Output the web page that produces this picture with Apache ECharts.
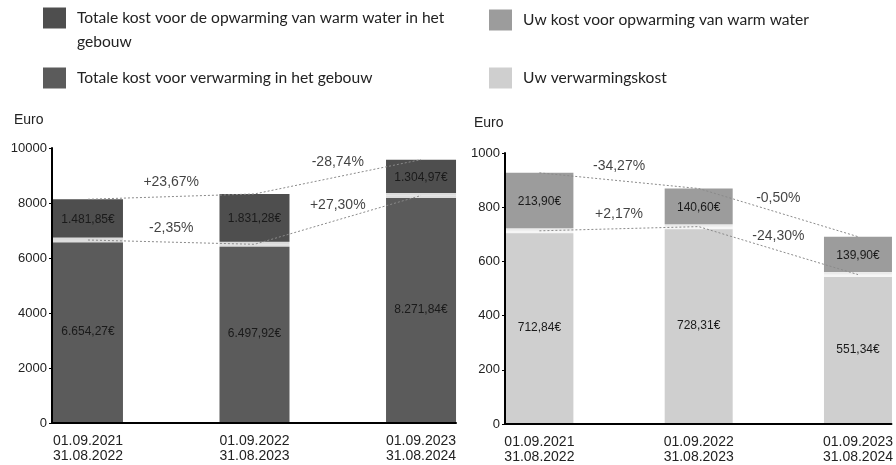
<!DOCTYPE html>
<html lang="nl">
<head>
<meta charset="UTF-8">
<title>Kosten opwarming en verwarming</title>
<script src="https://cdn.jsdelivr.net/npm/echarts@6/dist/echarts.min.js"></script>
<style>
html, body { margin: 0; padding: 0; background: #fff; }
#chart { width: 896px; height: 465px; }
</style>
</head>
<body>
<div id="chart"></div>
<script>
var periods = ['01.09.2021\n31.08.2022', '01.09.2022\n31.08.2023', '01.09.2023\n31.08.2024'];

// totale kost gebouw
var buildingWater = [1481.85, 1831.28, 1304.97];
var buildingHeating = [6654.27, 6497.92, 8271.84];
var buildingWaterPct = ['+23,67%', '-28,74%'];
var buildingHeatingPct = ['-2,35%', '+27,30%'];

// eigen kost
var ownWater = [213.90, 140.60, 139.90];
var ownHeating = [712.84, 728.31, 551.34];
var ownWaterPct = ['-34,27%', '-0,50%'];
var ownHeatingPct = ['+2,17%', '-24,30%'];

var names = [
    'Totale kost voor de opwarming van warm water in het gebouw',
    'Totale kost voor verwarming in het gebouw',
    'Uw kost voor opwarming van warm water',
    'Uw verwarmingskost'
];

var FONT = '"Liberation Sans", Arial, sans-serif';
var LEGEND_FONT = 'Lato, "Open Sans", sans-serif';

// 6654.27 -> 6.654,27€
function euro(v) {
    var p = v.toFixed(2).split('.');
    return p[0].replace(/\B(?=(\d{3})+(?!\d))/g, '.') + ',' + p[1] + '€';
}

function sum(a, b) {
    return a.map(function (v, i) { return v + b[i]; });
}

// waarde staat in kolom 0 zodat de stack op y werkt (x-as is een value-as)
function barSeries(name, data, color, idx, width) {
    return {
        type: 'bar', name: name, xAxisIndex: idx, yAxisIndex: idx,
        stack: 'kost' + idx, barWidth: width,
        encode: { x: 1, y: 0 },
        data: data.map(function (v, i) { return [v, i]; }),
        itemStyle: { color: color },
        label: {
            show: true, position: 'inside', fontSize: 12, fontFamily: FONT, color: '#1a1a1a',
            formatter: function (p) { return euro(p.value[0]); }
        }
    };
}

// witte scheiding tussen de twee delen van een staaf
function gapSeries(data, idx, width) {
    return {
        type: 'scatter', xAxisIndex: idx, yAxisIndex: idx, silent: true, z: 3,
        symbol: 'rect', symbolSize: [width + 2, 5],
        itemStyle: { color: '#fff' },
        data: data.map(function (v, i) { return [i, v]; })
    };
}

function lineSeries(data, idx) {
    return {
        type: 'line', xAxisIndex: idx, yAxisIndex: idx, silent: true, z: 4,
        data: data.map(function (v, i) { return [i, v]; }),
        symbol: 'none',
        lineStyle: { color: '#8a8a8a', width: 1, type: [2, 2] }
    };
}

// percentage boven het midden van de verbindingslijn
function pctSeries(data, pct, idx) {
    return {
        type: 'scatter', xAxisIndex: idx, yAxisIndex: idx, silent: true, z: 5,
        symbolSize: 1, itemStyle: { color: 'rgba(0,0,0,0)' },
        data: pct.map(function (t, i) {
            return { name: t, value: [i + 0.5, (data[i] + data[i + 1]) / 2] };
        }),
        label: {
            show: true, position: 'top', distance: 7, fontSize: 14, fontFamily: FONT, color: '#111',
            formatter: function (p) { return p.name; }
        }
    };
}

function xAxis(idx) {
    return {
        type: 'value', gridIndex: idx, min: -0.216, max: 2.21, z: 6,
        axisLine: { show: true, onZero: false, lineStyle: { color: '#000', width: 2 } },
        axisTick: { show: false },
        splitLine: { show: false },
        axisLabel: {
            customValues: [0, 1, 2], margin: 11, fontSize: 14, lineHeight: 15,
            fontFamily: FONT, color: '#222',
            formatter: function (v) { return periods[Math.round(v)]; }
        }
    };
}

function yAxis(idx, max, interval) {
    return {
        type: 'value', gridIndex: idx, min: 0, max: max, interval: interval, z: 6,
        axisLine: { show: true, onZero: false, lineStyle: { color: '#000', width: 2 } },
        axisTick: { show: true, length: 3, lineStyle: { color: '#000' } },
        splitLine: { show: false },
        axisLabel: {
            margin: 5, fontSize: 13, fontFamily: FONT, color: '#222',
            formatter: function (v) { return String(v); }
        }
    };
}

function legend(name, left, top, fmt) {
    return {
        data: [name], left: left, top: top, selectedMode: false, padding: 0,
        icon: 'rect', itemWidth: 23, itemHeight: 21,
        formatter: fmt,
        textStyle: { fontSize: 15.6, lineHeight: 24, fontFamily: LEGEND_FONT, color: '#222', padding: [0, 0, 0, 6] }
    };
}

var chart = echarts.init(document.getElementById('chart'));
chart.setOption({
    animation: false,
    tooltip: { show: false },
    title: [
        { text: 'Euro', left: 14, top: 113, padding: 0, textStyle: { fontSize: 14, fontWeight: 'normal', fontFamily: FONT, color: '#222' } },
        { text: 'Euro', left: 474, top: 116, padding: 0, textStyle: { fontSize: 14, fontWeight: 'normal', fontFamily: FONT, color: '#222' } }
    ],
    legend: [
        legend(names[0], 43, -18, function (n) { return '\n' + n.replace(' gebouw', '\ngebouw'); }),
        legend(names[1], 43, 66),
        legend(names[2], 489, 8),
        legend(names[3], 489, 66)
    ],
    grid: [
        { left: 52, right: 440, top: 148, bottom: 42 },
        { left: 505, right: -5, top: 153, bottom: 40 }
    ],
    xAxis: [xAxis(0), xAxis(1)],
    yAxis: [yAxis(0, 10000, 2000), yAxis(1, 1000, 200)],
    series: [
        barSeries(names[1], buildingHeating, '#5b5b5b', 0, 70),
        barSeries(names[0], buildingWater, '#4e4e4e', 0, 70),
        gapSeries(buildingHeating, 0, 70),
        lineSeries(buildingHeating, 0),
        lineSeries(sum(buildingHeating, buildingWater), 0),
        pctSeries(buildingHeating, buildingHeatingPct, 0),
        pctSeries(sum(buildingHeating, buildingWater), buildingWaterPct, 0),

        barSeries(names[3], ownHeating, '#cfcfcf', 1, 68),
        barSeries(names[2], ownWater, '#9c9c9c', 1, 68),
        gapSeries(ownHeating, 1, 68),
        lineSeries(ownHeating, 1),
        lineSeries(sum(ownHeating, ownWater), 1),
        pctSeries(ownHeating, ownHeatingPct, 1),
        pctSeries(sum(ownHeating, ownWater), ownWaterPct, 1)
    ]
});
</script>
</body>
</html>
